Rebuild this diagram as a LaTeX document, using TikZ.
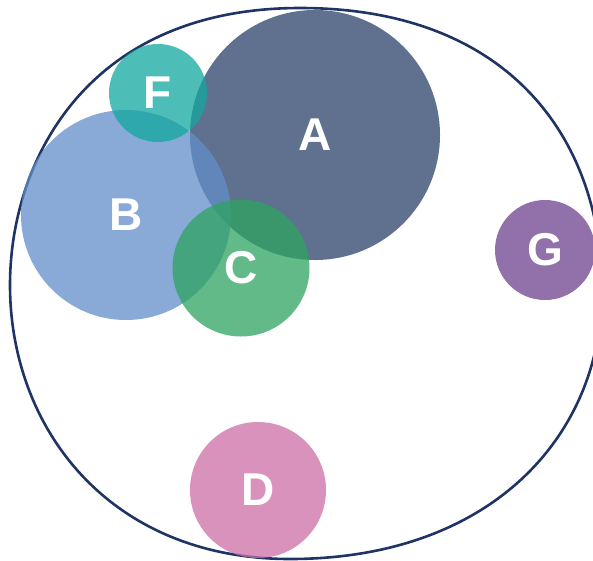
\documentclass[tikz,border=0pt]{standalone}
\usepackage{fontspec}
\setmainfont{Liberation Sans}
\usepackage{xcolor}
\usepackage{tikz}

\definecolor{outline}{RGB}{31,52,100}
\definecolor{colA}{RGB}{43,64,105}
\definecolor{colB}{RGB}{97,142,200}
\definecolor{colC}{RGB}{46,163,96}
\definecolor{colD}{RGB}{203,110,166}
\definecolor{colF}{RGB}{18,168,159}
\definecolor{colG}{RGB}{110,64,142}

\tikzset{
    blob/.style={circle, draw=none, inner sep=0pt, fill opacity=0.75, text opacity=1,
        text=white, font=\fontsize{46}{46}\selectfont\bfseries},
}

\begin{document}
\begin{tikzpicture}[x=1pt, y=-1pt]
            \useasboundingbox (0, 0) rectangle (593, 560);
            \clip (0, 0) rectangle (593, 560);

            % outer boundary
            \draw[outline, line width=2.6pt]
                (10, 285) .. controls (10, 161) and (87, 8) .. (300, 8)
                .. controls (511, 8) and (602, 141) .. (602, 290)
                .. controls (602, 437) and (490, 559) .. (290, 559)
                .. controls (109, 559) and (10, 428) .. (10, 285) -- cycle;

            % sets
            \node[blob, fill=colA, minimum size=250pt] (nodeA) at (315, 135) {};
            \node[blob, fill=colB, minimum size=210pt] (nodeB) at (126, 215) {};
            \node[blob, fill=colF, minimum size=98pt] (nodeF) at (158, 93) {};
            \node[blob, fill=colC, minimum size=137pt] (nodeC) at (241, 268) {};
            \node[blob, fill=colG, minimum size=100pt] (nodeG) at (545, 250) {};
            \node[blob, fill=colD, minimum size=136pt] (nodeD) at (258, 490) {};

            % labels
            \node[blob] at (nodeA) {A};
            \node[blob] at (nodeB) {B};
            \node[blob] at (nodeF) {F};
            \node[blob] at (nodeC) {C};
            \node[blob] at (nodeG) {G};
            \node[blob] at (nodeD) {D};
        \end{tikzpicture}
\end{document}
